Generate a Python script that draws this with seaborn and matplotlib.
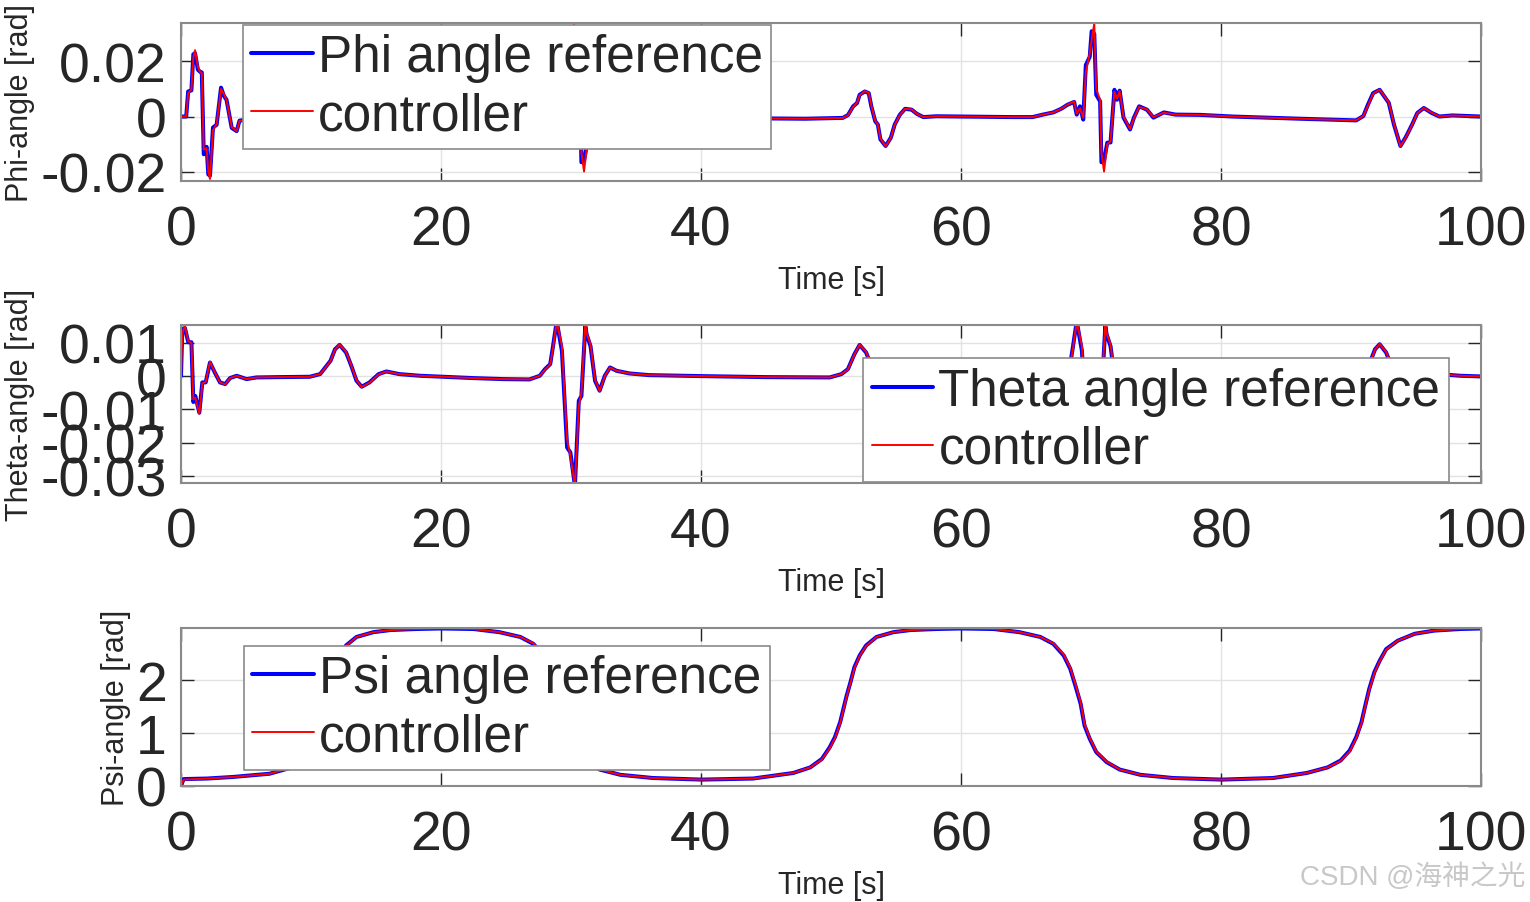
import matplotlib
matplotlib.use('Agg')
import pandas as pd
import seaborn as sns
import matplotlib.pyplot as plt


# time [s] and angles [rad]
phi_t = ([0, 0.4, 0.55, 0.8, 0.95, 1.08, 1.3, 1.46, 1.6, 1.75, 1.97, 2.1, 2.23, 2.46, 2.74, 3.08, 3.3, 3.5, 3.9, 4.28, 4.5, 5.5, 7.0, 9.0]
         + [10.9, 11.3, 11.7, 12.0, 12.2, 12.6, 12.9, 13.1, 13.4, 13.6, 13.8, 14.2, 14.6, 14.9, 15.3, 15.7, 16.2, 16.6, 17.1, 18.1, 20.0, 22.0, 24.0]
         + [25.5, 26.3, 27.1, 27.7, 28.2, 28.7, 28.9, 29.15, 29.4, 29.6, 29.9, 30.05, 30.25, 30.4, 30.7, 30.8, 31.0, 31.25, 31.5, 31.8, 32.0, 32.2, 32.5, 33.0, 33.3, 33.7, 34.3, 34.8, 35.6, 36.5, 38.4, 40.9, 43.0, 45.3, 48.0]
         + [50.9, 51.3, 51.7, 52.0, 52.2, 52.6, 52.9, 53.1, 53.4, 53.6, 53.8, 54.2, 54.6, 54.9, 55.3, 55.7, 56.2, 56.6, 57.1, 58.1, 60.0, 62.0, 64.0]
         + [65.5, 66.3, 67.1, 67.7, 68.2, 68.7, 68.9, 69.15, 69.4, 69.6, 69.9, 70.05, 70.25, 70.4, 70.7, 70.8, 71.0, 71.25, 71.5, 71.8, 72.0, 72.2, 72.5, 73.0, 73.3, 73.7, 74.3, 74.8, 75.6, 76.5, 78.4, 80.9, 86.1, 90.4]
         + [90.95, 91.3, 91.7, 92.2, 92.9, 93.3, 93.8, 94.2, 94.7, 95.1, 95.6, 96.2, 96.8, 97.8, 100.0])
phi_ref = ([0, 0, 0.0091, 0.0095, 0.0226, 0.0230, 0.0170, 0.0163, 0.0160, -0.0137, -0.0110, -0.0210, -0.0215, -0.0040, -0.0030, 0.0105, 0.0075, 0.0061, -0.0041, -0.0053, -0.0015, -0.0008, -0.0004, -0.0006]
           + [-0.0005, 0.0005, 0.0037, 0.0049, 0.0079, 0.0091, 0.0085, 0.0037, -0.0017, -0.0029, -0.0083, -0.0107, -0.0077, -0.0029, 0.0007, 0.0028, 0.0025, 0.0010, -0.0002, 0.0001, 0.0000, -0.0001, -0.0002]
           + [-0.0002, 0.0007, 0.0015, 0.0028, 0.0043, 0.0053, 0.0007, 0.0037, -0.0011, 0.0187, 0.0217, 0.0310, 0.0300, 0.0079, 0.0055, -0.0166, -0.0160, -0.0095, -0.0094, 0.0097, 0.0061, 0.0094, -0.0004, -0.0047, -0.0004, 0.0037, 0.0025, -0.0004, 0.0015, 0.0007, 0.0006, 0.0000, -0.0004, -0.0007, -0.0008]
           + [-0.0005, 0.0005, 0.0037, 0.0049, 0.0079, 0.0091, 0.0085, 0.0037, -0.0017, -0.0029, -0.0083, -0.0107, -0.0077, -0.0029, 0.0007, 0.0028, 0.0025, 0.0010, -0.0002, 0.0001, 0.0000, -0.0001, -0.0002]
           + [-0.0002, 0.0007, 0.0015, 0.0028, 0.0043, 0.0053, 0.0007, 0.0037, -0.0011, 0.0187, 0.0217, 0.0310, 0.0300, 0.0079, 0.0055, -0.0166, -0.0160, -0.0095, -0.0094, 0.0097, 0.0061, 0.0094, -0.0004, -0.0047, -0.0004, 0.0037, 0.0025, -0.0004, 0.0015, 0.0007, 0.0006, 0.0000, -0.0008, -0.0014]
           + [0.0002, 0.0043, 0.0085, 0.0097, 0.0050, -0.0029, -0.0107, -0.0076, -0.0029, 0.0013, 0.0031, 0.0013, 0.0000, 0.0004, 0.0000])
phi_ctrl = ([0, 0, 0.0085, 0.0098, 0.0215, 0.0241, 0.0180, 0.0163, 0.0158, -0.0120, -0.0115, -0.0200, -0.0227, -0.0050, -0.0028, 0.0100, 0.0082, 0.0060, -0.0038, -0.0053, -0.0016, -0.0008, -0.0004, -0.0006]
            + [-0.0005, 0.0004, 0.0035, 0.0050, 0.0077, 0.0092, 0.0086, 0.0040, -0.0015, -0.0030, -0.0080, -0.0108, -0.0078, -0.0030, 0.0006, 0.0028, 0.0026, 0.0010, -0.0002, 0.0001, 0.0000, -0.0001, -0.0002]
            + [-0.0002, 0.0007, 0.0015, 0.0028, 0.0043, 0.0055, 0.0010, 0.0030, -0.0005, 0.0160, 0.0230, 0.0280, 0.0338, 0.0100, 0.0060, -0.0130, -0.0200, -0.0100, -0.0090, 0.0090, 0.0065, 0.0092, 0.0000, -0.0045, -0.0006, 0.0035, 0.0026, -0.0002, 0.0014, 0.0007, 0.0006, 0.0000, -0.0004, -0.0007, -0.0008]
            + [-0.0005, 0.0004, 0.0035, 0.0050, 0.0077, 0.0092, 0.0086, 0.0040, -0.0015, -0.0030, -0.0080, -0.0108, -0.0078, -0.0030, 0.0006, 0.0028, 0.0026, 0.0010, -0.0002, 0.0001, 0.0000, -0.0001, -0.0002]
            + [-0.0002, 0.0007, 0.0015, 0.0028, 0.0043, 0.0055, 0.0010, 0.0030, -0.0005, 0.0160, 0.0230, 0.0280, 0.0338, 0.0100, 0.0060, -0.0130, -0.0200, -0.0100, -0.0090, 0.0090, 0.0065, 0.0092, 0.0000, -0.0045, -0.0006, 0.0035, 0.0026, -0.0002, 0.0014, 0.0007, 0.0006, 0.0000, -0.0008, -0.0014]
            + [0.0002, 0.0040, 0.0083, 0.0098, 0.0052, -0.0026, -0.0108, -0.0078, -0.0030, 0.0012, 0.0031, 0.0014, 0.0000, 0.0004, 0.0000])

theta_t = ([0, 0.1, 0.3, 0.56, 0.8, 0.95, 1.1, 1.41, 1.64, 1.9, 2.23, 2.6, 3.0, 3.4, 3.77, 4.28, 5.05, 5.8, 7.5, 9.9]
           + [10.7, 11.1, 11.5, 11.85, 12.2, 12.7, 13.1, 13.5, 13.9, 14.5, 15.2, 15.8, 16.8, 18.4, 20.2, 22.5, 24.8, 26.8, 27.6, 28.0, 28.4, 28.6, 28.9, 29.3, 29.7, 29.95, 30.3, 30.6, 30.8, 31.1, 31.2, 31.5, 31.85, 32.2, 32.6, 33.0, 33.5, 34.5, 36.0, 40.0, 45.0, 49.9]
           + [50.8, 51.3, 51.8, 52.2, 52.7, 53.1, 53.5, 53.9, 54.5, 55.2, 55.8, 56.8, 58.4, 60.2, 62.5, 64.8, 66.8, 67.6, 68.0, 68.4, 68.6, 68.9, 69.3, 69.7, 69.95, 70.3, 70.6, 70.8, 71.1, 71.2, 71.5, 71.85, 72.2, 72.6, 73.0, 73.5, 74.5, 76.0, 80.0, 85.0, 89.9]
           + [90.7, 91.1, 91.5, 91.85, 92.2, 92.7, 93.1, 93.5, 93.9, 94.5, 95.2, 95.8, 96.8, 98.4, 100.0])
theta_ref = ([0, 0.0141, 0.0145, 0.0102, 0.0102, -0.0078, -0.0060, -0.0110, -0.0019, -0.0019, 0.0041, 0.0011, -0.0019, -0.0024, -0.0006, 0.0001, -0.0009, -0.0004, -0.0003, -0.0002]
             + [0.0006, 0.0026, 0.0046, 0.0081, 0.0094, 0.0071, 0.0031, -0.0014, -0.0032, -0.0019, 0.0006, 0.0014, 0.0006, 0.0001, -0.0002, -0.0006, -0.0009, -0.0010, 0.0001, 0.0021, 0.0036, 0.0086, 0.0165, 0.0076, -0.0215, -0.0230, -0.0330, -0.0074, -0.0060, 0.0150, 0.0126, 0.0090, -0.0014, -0.0044, 0.0001, 0.0026, 0.0016, 0.0008, 0.0003, 0.0000, -0.0003, -0.0004]
             + [0.0006, 0.0021, 0.0066, 0.0094, 0.0071, 0.0031, -0.0014, -0.0032, -0.0019, 0.0006, 0.0014, 0.0006, 0.0001, -0.0002, -0.0006, -0.0009, -0.0010, 0.0001, 0.0021, 0.0036, 0.0086, 0.0165, 0.0076, -0.0215, -0.0230, -0.0330, -0.0074, -0.0060, 0.0150, 0.0126, 0.0090, -0.0014, -0.0044, 0.0001, 0.0026, 0.0016, 0.0008, 0.0003, 0.0000, -0.0003, -0.0004]
             + [0.0006, 0.0026, 0.0046, 0.0081, 0.0096, 0.0071, 0.0031, -0.0014, -0.0032, -0.0019, 0.0006, 0.0014, 0.0006, 0.0001, -0.0001])
theta_ctrl = ([0, 0.0130, 0.0151, 0.0105, 0.0100, -0.0070, -0.0065, -0.0114, -0.0022, -0.0017, 0.0043, 0.0012, -0.0019, -0.0025, -0.0006, 0.0001, -0.0009, -0.0004, -0.0003, -0.0002]
              + [0.0006, 0.0025, 0.0045, 0.0080, 0.0095, 0.0073, 0.0032, -0.0012, -0.0033, -0.0020, 0.0005, 0.0014, 0.0006, 0.0001, -0.0002, -0.0006, -0.0009, -0.0010, 0.0001, 0.0020, 0.0035, 0.0080, 0.0165, 0.0090, -0.0190, -0.0240, -0.0330, -0.0090, -0.0050, 0.0160, 0.0130, 0.0095, -0.0010, -0.0045, 0.0000, 0.0026, 0.0016, 0.0008, 0.0003, 0.0000, -0.0003, -0.0004]
              + [0.0006, 0.0020, 0.0065, 0.0095, 0.0073, 0.0032, -0.0012, -0.0033, -0.0020, 0.0005, 0.0014, 0.0006, 0.0001, -0.0002, -0.0006, -0.0009, -0.0010, 0.0001, 0.0020, 0.0035, 0.0080, 0.0165, 0.0090, -0.0190, -0.0240, -0.0330, -0.0090, -0.0050, 0.0160, 0.0130, 0.0095, -0.0010, -0.0045, 0.0000, 0.0026, 0.0016, 0.0008, 0.0003, 0.0000, -0.0003, -0.0004]
              + [0.0006, 0.0025, 0.0045, 0.0080, 0.0097, 0.0073, 0.0032, -0.0012, -0.0033, -0.0020, 0.0005, 0.0014, 0.0006, 0.0001, -0.0001])

psi_t = ([0, 0.2, 2.0, 4.0, 6.8, 8.4, 9.3, 9.9, 10.3, 10.7, 10.95, 11.2, 11.5, 11.8, 12.2, 12.7, 13.5, 14.8, 16.1, 18.1]
         + [20.0, 22.5, 24.5, 26.1, 27.1, 27.9, 28.4, 28.8, 29.2, 29.5, 29.9, 30.4, 31.2, 32.2, 33.8, 36.3, 40.05, 44.0]
         + [47.1, 48.4, 49.3, 49.9, 50.3, 50.7, 50.95, 51.2, 51.5, 51.8, 52.2, 52.7, 53.5, 54.8, 56.1, 58.1]
         + [60.0, 62.5, 64.5, 66.1, 67.1, 67.9, 68.4, 68.8, 69.2, 69.5, 69.9, 70.4, 71.2, 72.2, 73.8, 76.3, 80.05, 84.0]
         + [86.6, 88.2, 89.2, 89.9, 90.4, 90.8, 91.1, 91.4, 91.8, 92.2, 92.7, 93.6, 94.9, 96.4, 98.4, 100.0])
psi_ref = ([0, 0.13, 0.14, 0.17, 0.23, 0.34, 0.51, 0.73, 0.92, 1.20, 1.45, 1.70, 1.96, 2.24, 2.46, 2.65, 2.81, 2.90, 2.94, 2.96]
           + [2.97, 2.96, 2.90, 2.81, 2.68, 2.46, 2.21, 1.89, 1.55, 1.14, 0.89, 0.64, 0.45, 0.31, 0.21, 0.15, 0.12, 0.14]
           + [0.245, 0.35, 0.51, 0.73, 0.92, 1.20, 1.45, 1.70, 1.96, 2.24, 2.46, 2.65, 2.81, 2.90, 2.94, 2.96]
           + [2.97, 2.96, 2.90, 2.81, 2.68, 2.46, 2.21, 1.89, 1.55, 1.14, 0.89, 0.64, 0.45, 0.31, 0.21, 0.15, 0.12, 0.15]
           + [0.245, 0.35, 0.48, 0.67, 0.92, 1.20, 1.52, 1.83, 2.15, 2.36, 2.58, 2.74, 2.87, 2.93, 2.96, 2.97])
psi_ctrl = ([0, 0.12, 0.14, 0.17, 0.23, 0.34, 0.50, 0.71, 0.90, 1.18, 1.43, 1.68, 1.95, 2.22, 2.45, 2.64, 2.81, 2.90, 2.94, 2.96]
            + [2.97, 2.96, 2.90, 2.81, 2.69, 2.48, 2.23, 1.92, 1.58, 1.17, 0.91, 0.65, 0.46, 0.31, 0.21, 0.15, 0.12, 0.14]
            + [0.245, 0.35, 0.50, 0.71, 0.90, 1.18, 1.43, 1.68, 1.95, 2.22, 2.45, 2.64, 2.81, 2.90, 2.94, 2.96]
            + [2.97, 2.96, 2.90, 2.81, 2.69, 2.48, 2.23, 1.92, 1.58, 1.17, 0.91, 0.65, 0.46, 0.31, 0.21, 0.15, 0.12, 0.15]
            + [0.245, 0.35, 0.47, 0.65, 0.90, 1.18, 1.50, 1.81, 2.13, 2.35, 2.57, 2.74, 2.87, 2.93, 2.96, 2.97])

xticks = [0, 20, 40, 60, 80, 100]

panels = [
    dict(t=phi_t, ref=phi_ref, ctrl=phi_ctrl, name='Phi', ylabel='Phi-angle [rad]',
         ylim=(-0.0234, 0.034), yticks=[-0.02, 0, 0.02], ylabels=['-0.02', '0', '0.02'],
         loc='upper left', anchor=(0.0477, 0.987)),
    dict(t=theta_t, ref=theta_ref, ctrl=theta_ctrl, name='Theta', ylabel='Theta-angle [rad]',
         ylim=(-0.0322, 0.0154), yticks=[-0.03, -0.02, -0.01, 0, 0.01],
         ylabels=['-0.03', '-0.02', '-0.01', '0', '0.01'],
         loc='lower right', anchor=(0.975, 0.006)),
    dict(t=psi_t, ref=psi_ref, ctrl=psi_ctrl, name='Psi', ylabel='Psi-angle [rad]',
         ylim=(0, 2.98), yticks=[0, 1, 2], ylabels=['0', '1', '2'],
         loc='upper left', anchor=(0.0485, 0.886)),
]

sns.set_theme(style='white')
plt.rcParams['font.family'] = ['Liberation Sans', 'Noto Sans CJK SC']
plt.rcParams['axes.unicode_minus'] = False

fig = plt.figure(figsize=(15.3, 9.03), dpi=100)
bottoms = [0.7985, 0.464, 0.1285]

for p, b in zip(panels, bottoms):
    ax = fig.add_axes([0.1183, b, 0.8497, 0.175])
    df = pd.DataFrame({'t': p['t'], 'ref': p['ref'], 'ctrl': p['ctrl']})
    sns.lineplot(data=df, x='t', y='ref', ax=ax, color='#0000ff', lw=2.9,
                 estimator=None, sort=False, label=p['name'] + ' angle reference')
    sns.lineplot(data=df, x='t', y='ctrl', ax=ax, color='#ff0000', lw=1.4,
                 estimator=None, sort=False, label='controller')

    ax.set_xlim(0, 100)
    ax.set_ylim(*p['ylim'])
    ax.set_xticks(xticks)
    ax.set_xticklabels([str(x) for x in xticks])
    ax.set_yticks(p['yticks'])
    ax.set_yticklabels(p['ylabels'])
    ax.tick_params(direction='in', length=9.5, width=1, color='#262626',
                   labelcolor='#262626', labelsize=40, pad=10,
                   top=True, right=True, bottom=True, left=True)
    ax.tick_params(axis='x', pad=17)
    ax.grid(True, color='#e2e2e2', lw=1)
    ax.set_axisbelow(True)
    for s in ax.spines.values():
        s.set_color('#8a8a8a')
        s.set_linewidth(1.5)
    ax.set_xlabel('Time [s]', fontsize=22, color='#262626', labelpad=6)
    ax.set_ylabel(p['ylabel'], fontsize=22, color='#262626', labelpad=4)

    leg = ax.legend(loc=p['loc'], bbox_to_anchor=p['anchor'], fontsize=37,
                    frameon=True, fancybox=False, framealpha=1, edgecolor='#8a8a8a',
                    borderpad=0.16, labelspacing=0.18, handlelength=1.2,
                    handletextpad=0.1, borderaxespad=0)
    leg.get_frame().set_linewidth(1.2)
    for txt in leg.get_texts():
        txt.set_color('#262626')

fig.text(0.9967, 0.029, 'CSDN @海神之光', ha='right', va='center', fontsize=20,
         color='#c8c8c8')

plt.savefig('out.png', dpi=100)
